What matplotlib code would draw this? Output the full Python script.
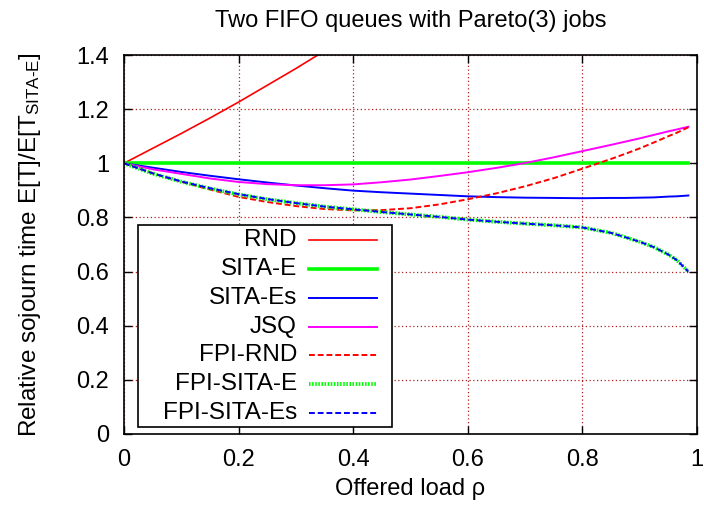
import numpy as np
import matplotlib
matplotlib.use('Agg')
import matplotlib.pyplot as plt
from matplotlib.lines import Line2D
from matplotlib.patches import Rectangle

plt.rcParams['font.family'] = ['Liberation Sans', 'DejaVu Sans']
plt.rcParams['mathtext.fontset'] = 'custom'
plt.rcParams['mathtext.rm'] = 'Liberation Sans'
plt.rcParams['mathtext.it'] = 'Liberation Sans'

# offered load
rho = [0.0, 0.05, 0.1, 0.15, 0.2, 0.25, 0.3, 0.35, 0.4, 0.45, 0.5, 0.55,
       0.6, 0.65, 0.7, 0.75, 0.8, 0.85, 0.875, 0.9, 0.925, 0.95, 0.965, 0.985]

rnd = [1.0, 1.055, 1.11, 1.167, 1.226, 1.288, 1.35, 1.415, 1.48, 1.55, 1.62, 1.7,
       1.78, 1.87, 1.96, 2.06, 2.17, 2.29, 2.35, 2.42, 2.49, 2.56, 2.6, 2.66]
sita_e = [1.0] * len(rho)
sita_es = [1.0, 0.984, 0.968, 0.954, 0.941, 0.929, 0.918, 0.908, 0.899, 0.893, 0.888,
           0.883, 0.878, 0.875, 0.873, 0.872, 0.871, 0.872, 0.872, 0.873, 0.874,
           0.877, 0.878, 0.881]
jsq = [1.0, 0.978, 0.961, 0.944, 0.931, 0.923, 0.919, 0.919, 0.922, 0.93, 0.94,
       0.953, 0.967, 0.983, 1.001, 1.022, 1.045, 1.068, 1.08, 1.092, 1.105,
       1.118, 1.125, 1.135]
fpi_rnd = [1.0, 0.963, 0.932, 0.903, 0.876, 0.857, 0.842, 0.831, 0.826, 0.827, 0.834,
           0.848, 0.867, 0.889, 0.915, 0.945, 0.98, 1.016, 1.035, 1.055, 1.077,
           1.1, 1.113, 1.133]
fpi_sita_e = [1.0, 0.962, 0.932, 0.907, 0.885, 0.867, 0.853, 0.84, 0.83, 0.82, 0.811,
              0.802, 0.792, 0.784, 0.777, 0.771, 0.763, 0.743, 0.727, 0.71, 0.69,
              0.663, 0.642, 0.6]
fpi_sita_es = [1.0, 0.963, 0.933, 0.908, 0.886, 0.868, 0.853, 0.84, 0.83, 0.82, 0.811,
               0.802, 0.792, 0.784, 0.777, 0.771, 0.763, 0.743, 0.727, 0.71, 0.69,
               0.663, 0.642, 0.6]

grid_col = '#b02020'
dash = (0, (3, 1.5))
dots = (0, (0.4, 0.4))

fig = plt.figure(figsize=(7.04, 5.07), dpi=100)
ax = fig.add_axes([0.176, 0.144, 0.814, 0.7475])

ax.plot(rho, rnd, color='#ff0000', lw=1.2)
ax.plot(rho, sita_e, color='#00ff00', lw=2.6)
ax.plot(rho, sita_es, color='#0000ff', lw=1.4)
ax.plot(rho, jsq, color='#ff00ff', lw=1.4)
ax.plot(rho, fpi_rnd, color='#ff0000', lw=1.4, ls=dash)
ax.plot(rho, fpi_sita_e, color='#00ff00', lw=2.8, ls=dots)
ax.plot(rho, fpi_sita_es, color='#0000ff', lw=1.4, ls=dash)

ax.set_xlim(0, 1)
ax.set_ylim(0, 1.4)
ax.set_xticks([0, 0.2, 0.4, 0.6, 0.8, 1])
ax.set_xticklabels(['0', '0.2', '0.4', '0.6', '0.8', '1'])
ax.set_yticks([0, 0.2, 0.4, 0.6, 0.8, 1, 1.2, 1.4])
ax.set_yticklabels(['0', '0.2', '0.4', '0.6', '0.8', '1', '1.2', '1.4'])
ax.tick_params(direction='in', length=6, width=1, top=True, right=True,
               labelsize=17)
ax.tick_params(axis='x', pad=11)
ax.tick_params(axis='y', pad=10.5)
ax.grid(True, color=grid_col, lw=0.9, ls=(0, (1, 2)))
for s in ax.spines.values():
    s.set_linewidth(1.2)

ax.set_title('Two FIFO queues with Pareto(3) jobs', fontsize=17, pad=20)
ax.set_xlabel('Offered load ρ', fontsize=17, labelpad=5)
ax.set_ylabel(r'Relative sojourn time E[T]/E[T$_{\text{SITA-E}}$]',
              fontsize=17.5, labelpad=24)

# key box, gnuplot style: text right aligned, sample to the right
ax.add_patch(Rectangle((0.024, 0.018), 0.444, 0.533, transform=ax.transAxes,
                       facecolor='white', edgecolor='black', lw=1.2, zorder=5))
names = ['RND', 'SITA-E', 'SITA-Es', 'JSQ', 'FPI-RND', 'FPI-SITA-E', 'FPI-SITA-Es']
styles = [('#ff0000', 1.2, '-'), ('#00ff00', 2.6, '-'), ('#0000ff', 1.4, '-'),
          ('#ff00ff', 1.4, '-'), ('#ff0000', 1.4, dash),
          ('#00ff00', 2.8, dots), ('#0000ff', 1.4, dash)]
for i, (name, (c, w, ls)) in enumerate(zip(names, styles)):
    yy = 0.512 - i * 0.0762
    ax.text(0.302, yy, name, transform=ax.transAxes, ha='right', va='center',
            fontsize=17.5, zorder=6)
    ax.add_line(Line2D([0.323, 0.442], [yy, yy], transform=ax.transAxes,
                       color=c, lw=w, ls=ls, zorder=6))

fig.savefig('out.png', dpi=100)
